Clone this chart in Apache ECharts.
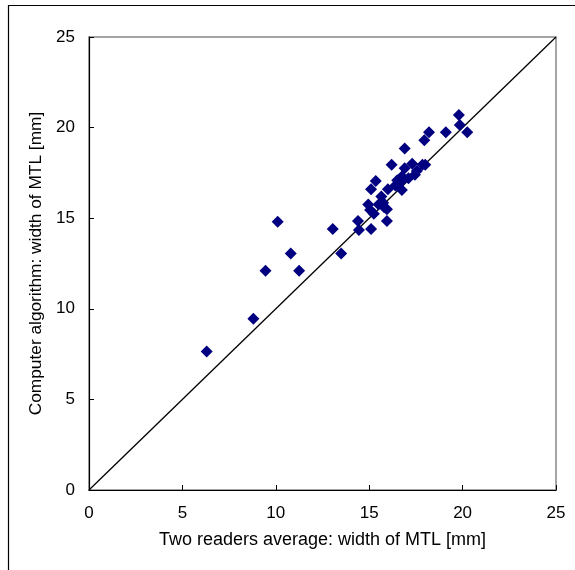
<!DOCTYPE html>
<html>
<head>
<meta charset="utf-8">
<script src="https://cdn.jsdelivr.net/npm/echarts@6/dist/echarts.min.js"></script>
<style>
html,body{margin:0;padding:0;background:#fff;}
#chart{width:575px;height:570px;}
</style>
</head>
<body>
<div id="chart"></div>
<script>
var readersAvg = [6.3, 8.8, 9.45, 10.1, 10.8, 11.25, 13.05, 13.5, 14.4, 14.45, 15.1, 15.95, 14.95, 15.05, 15.25, 15.5, 15.95, 15.75, 15.1, 15.35, 15.65, 16.0, 16.2, 16.4, 16.75, 16.5, 16.75, 16.9, 16.9, 17.1, 17.3, 17.45, 17.55, 17.85, 18.0, 17.95, 18.2, 19.1, 19.8, 19.85, 20.25, 16.7, 15.8];
var algorithm  = [7.65, 9.45, 12.1, 14.8, 13.05, 12.1, 14.4, 13.05, 14.85, 14.35, 14.4, 14.85, 15.75, 15.45, 15.25, 15.75, 15.5, 15.85, 16.6, 17.05, 16.2, 16.6, 17.95, 16.8, 16.55, 17.1, 17.3, 17.75, 18.85, 17.2, 18.0, 17.4, 17.6, 17.95, 17.95, 19.3, 19.75, 19.75, 20.7, 20.15, 19.75, 17.0, 15.6];
var identityX = [0, 25];
var identityY = [0, 25];
var xTitle = 'Two readers average: width of MTL [mm]';
var yTitle = 'Computer algorithm: width of MTL [mm]';

var points = readersAvg.map(function (x, i) { return [x, algorithm[i]]; });
var lineData = identityX.map(function (x, i) { return [x, identityY[i]]; });

var font = '"Liberation Sans", Arial, sans-serif';
var chart = echarts.init(document.getElementById('chart'));
chart.setOption({
  animation: false,
  backgroundColor: '#fff',
  graphic: [{
    type: 'rect',
    shape: {x: 8.5, y: 5.5, width: 700, height: 700},
    style: {fill: 'none', stroke: '#000', lineWidth: 1.2},
    z: -1
  }],
  grid: {left: 89, top: 37, right: 19, bottom: 80, show: true, borderColor: '#888', borderWidth: 1.5, backgroundColor: 'transparent'},
  xAxis: {
    type: 'value', min: 0, max: 25, interval: 5,
    name: xTitle, nameLocation: 'middle', nameGap: 41,
    nameTextStyle: {fontFamily: font, fontSize: 18, color: '#000'},
    axisLine: {show: true, onZero: false, lineStyle: {color: '#000', width: 1.2}},
    axisTick: {show: true, inside: true, length: 5, lineStyle: {color: '#000'}},
    axisLabel: {fontFamily: font, fontSize: 17, color: '#000', margin: 15},
    splitLine: {show: false}
  },
  yAxis: {
    type: 'value', min: 0, max: 25, interval: 5,
    name: yTitle, nameLocation: 'middle', nameGap: 44, nameRotate: 90,
    nameTextStyle: {fontFamily: font, fontSize: 17.3, color: '#000'},
    axisLine: {show: true, onZero: false, lineStyle: {color: '#000', width: 1.2}},
    axisTick: {show: true, inside: true, length: 5, lineStyle: {color: '#000'}},
    axisLabel: {fontFamily: font, fontSize: 17, color: '#000', margin: 14},
    splitLine: {show: false}
  },
  series: [{
    type: 'line',
    data: lineData,
    symbol: 'none',
    lineStyle: {color: '#000', width: 1.3},
    z: 1
  }, {
    type: 'scatter',
    data: points,
    symbol: 'diamond',
    symbolSize: 12,
    itemStyle: {color: '#000080', opacity: 1},
    z: 2
  }]
});
</script>
</body>
</html>
